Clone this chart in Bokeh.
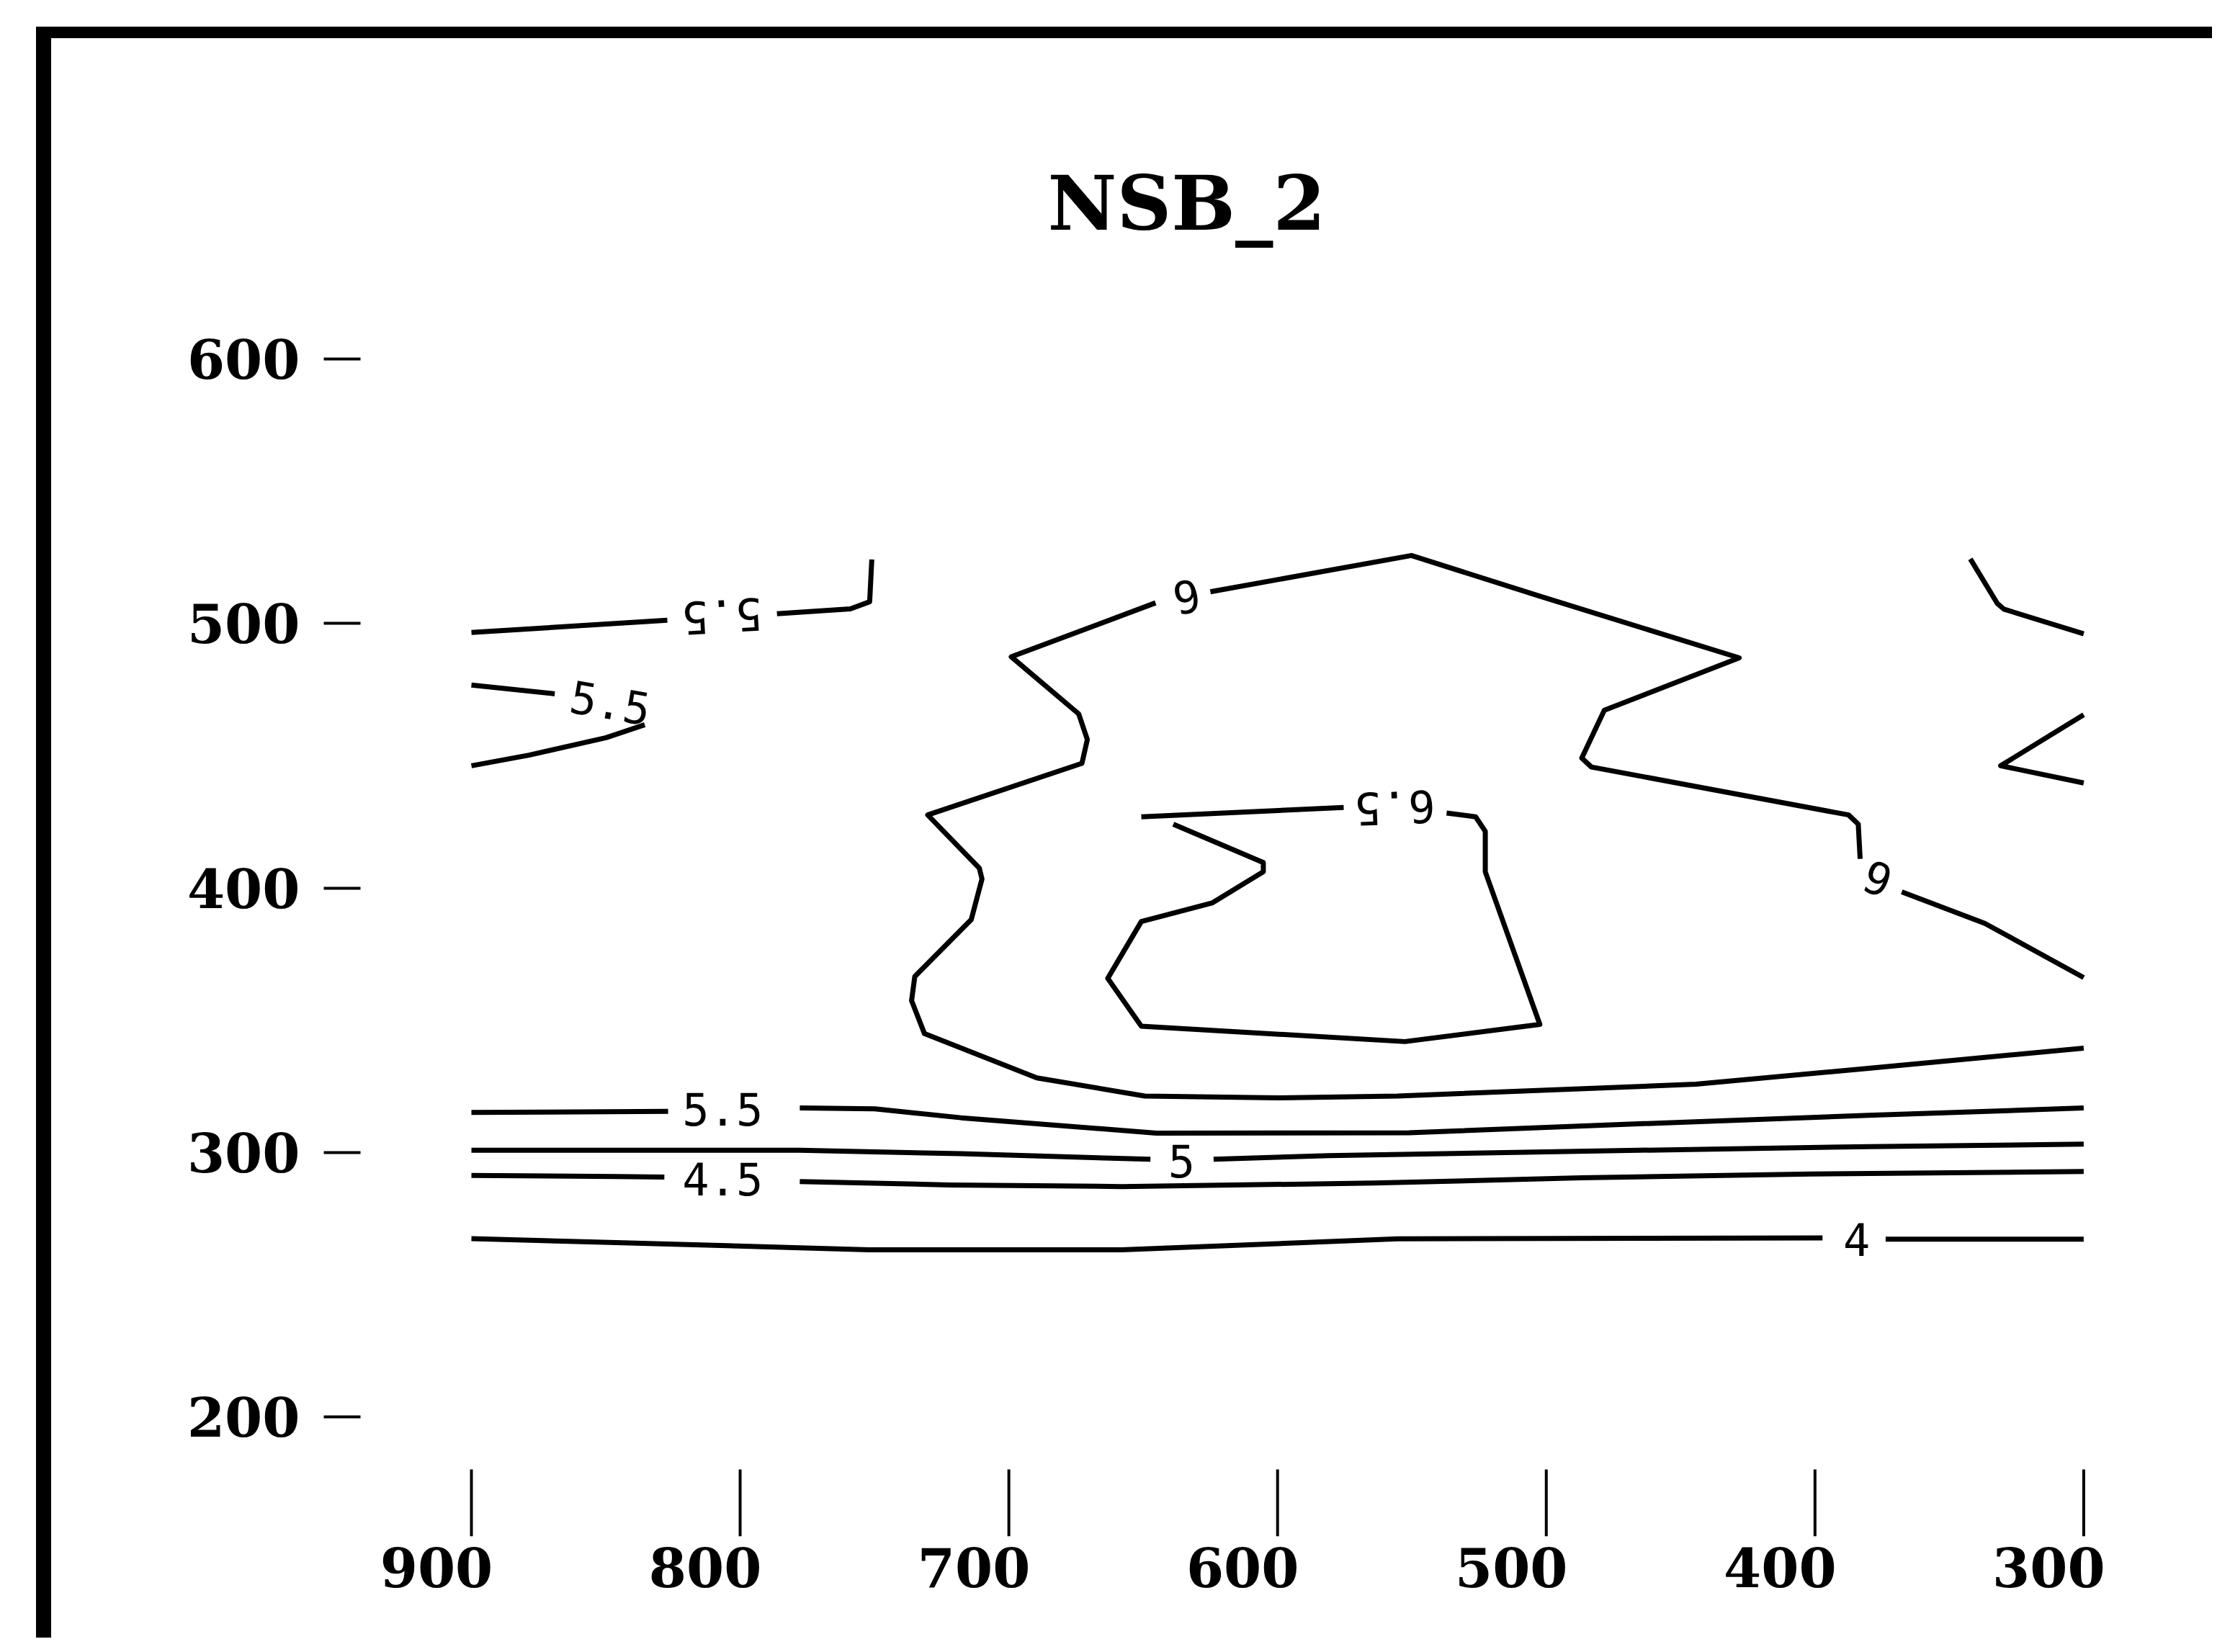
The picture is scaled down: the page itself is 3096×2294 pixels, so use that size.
import math
from bokeh.plotting import figure
from bokeh.models import Range1d, FixedTicker
from bokeh.core.properties import value
from bokeh.embed import file_html
from bokeh.resources import INLINE

# ---------------- data ----------------
title_text = "NSB_2"
x_ticks = [900, 800, 700, 600, 500, 400, 300]
y_ticks = [200, 300, 400, 500, 600]

# contour level 4
c40_x = [[900, 846.1, 752, 658, 555.4, 397.2], [373.7, 300]]
c40_y = [[267.4, 265.9, 263.2, 263.2, 267.3, 267.7], [267.2, 267.2]]
# contour level 4.5
c45_x = [[900, 846.1, 828.2], [777.8, 722.1, 658, 563.9, 486.9, 401.5, 300]]
c45_y = [[291.3, 290.9, 290.7], [289.0, 287.7, 287.1, 288.4, 290.4, 291.8, 292.8]]
# contour level 5
c50_x = [[900, 777.8, 717.8, 647.3], [623.8, 581, 465.6, 380.1, 300]]
c50_y = [[300.8, 300.8, 299.5, 297.4], [297.4, 298.8, 300.8, 302.2, 303.1]]
# contour level 5.5 (bottom, upper-left, tongue)
c55_x = [[900, 826.8], [777.8, 749.9, 717.8, 645.1, 551.1, 465.6, 380.1, 300],
         [900, 827.1], [786.3, 759, 751.8, 751],
         [900, 869], [835.5, 849.9, 878.6, 900]]
c55_y = [[315.1, 315.5], [316.8, 316.5, 313.1, 307.3, 307.4, 310.8, 314.0, 316.8],
         [496.6, 501.2], [503.7, 505.5, 508.2, 524.2],
         [476.7, 473.4], [461.7, 456.8, 450.2, 446.2]]
# contour level 6 (main loop + right-edge pieces)
c60_x = [[300, 380.1, 444.3, 555.4, 600, 649.4, 689.6, 731.4, 736.2, 735, 714, 710, 711,
          730.2, 672.8, 670.8, 674, 699.1, 645.4],
         [625, 550.2, 502.4, 428.2, 478.4, 486.8, 483.2, 387.5, 383.9, 383.2],
         [367.7, 336.8, 300],
         [342.2, 332.1, 329.7, 300],
         [300, 330.9, 300]]
c60_y = [[339.4, 331.8, 325.8, 321.3, 320.6, 321.3, 328.2, 344.9, 357.4, 366.5, 388, 403.4, 407.5,
          427.6, 447.1, 456.1, 465.8, 487.4, 507.8],
         [512, 525.7, 510.3, 487, 467.2, 449.1, 445.7, 427.6, 424.1, 411],
         [398.5, 386.6, 366.1],
         [524.4, 507.5, 505.4, 496.1],
         [465.5, 446.2, 439.7]]
# contour level 6.5
c65_x = [[650.7, 575.4],
         [537.1, 526.3, 522.7, 522.7, 502.4, 552.6, 650.7, 663.2, 650.7, 624.4, 605.3, 605.3, 638.8]]
c65_y = [[426.9, 430.4],
         [428.3, 426.9, 421.4, 406.1, 348.4, 341.9, 347.7, 365.8, 387.3, 394.3, 406.1, 409.6, 424.1]]

# contour labels
label_text = ["4", "4.5", "5", "5.5", "5.5", "5.5", "6", "6", "6.5"]
label_x = [384.5, 806.5, 635.7, 806.5, 806.7, 848.3, 633.8, 376.8, 556.4]
label_y = [267.0, 290.1, 296.7, 316.3, 502.5, 470.1, 509.9, 403.4, 430.1]
label_angle = [0, 0, 0, 0, math.pi + 0.06, -0.17, math.pi + 0.19, math.pi - 0.36, math.pi + 0.04]

# ---------------- figure ----------------
p = figure(width=3021, height=2237, output_backend="svg", toolbar_location=None,
           x_range=Range1d(941.28, 287.24), y_range=Range1d(154.8, 621.24),
           min_border_left=429, min_border_right=152, min_border_top=367, min_border_bottom=157,
           styles={"margin-left": "50px", "margin-top": "37px",
                   "border-left": "21px solid black", "border-top": "16px solid black"})
p.grid.visible = False
p.outline_line_color = None
p.background_fill_color = "white"
p.border_fill_color = "white"

# title
p.title.text = title_text
p.title.text_font = "DejaVu Serif"
p.title.text_font_style = "bold"
p.title.text_font_size = "105px"
p.title.text_color = "black"
p.title.align = "left"
p.title.offset = 954
p.title.standoff = 154

# y axis
ya = p.yaxis[0]
ya.ticker = FixedTicker(ticks=y_ticks)
ya.axis_line_color = None
ya.major_tick_out = 51
ya.major_tick_in = 0
ya.minor_tick_line_color = None
ya.major_tick_line_width = 4
ya.major_tick_line_color = "black"
ya.major_label_standoff = 33
ya.major_label_text_font = "DejaVu Serif"
ya.major_label_text_font_style = "bold"
ya.major_label_text_font_size = "75px"
ya.major_label_text_color = "black"

# x axis: labels sit slightly left of their tick marks in the original
label_shift = 13
x_label_pos = [t + label_shift for t in x_ticks]
xa = p.xaxis[0]
xa.ticker = FixedTicker(ticks=x_label_pos)
xa.major_label_overrides = {pos: str(t) for pos, t in zip(x_label_pos, x_ticks)}
xa.axis_line_color = None
xa.major_tick_line_color = None
xa.minor_tick_line_color = None
xa.major_tick_out = 0
xa.major_tick_in = 0
xa.major_label_standoff = 15
xa.major_label_text_font = "DejaVu Serif"
xa.major_label_text_font_style = "bold"
xa.major_label_text_font_size = "75px"
xa.major_label_text_color = "black"

# x tick marks (vertical bars below the data area)
x_tick_top = 180.12
p.segment(x0=x_ticks, x1=x_ticks, y0=[x_tick_top] * len(x_ticks),
          y1=[p.y_range.start] * len(x_ticks), line_color="black", line_width=4)

# contours
for xs, ys in [(c40_x, c40_y), (c45_x, c45_y), (c50_x, c50_y),
               (c55_x, c55_y), (c60_x, c60_y), (c65_x, c65_y)]:
    p.multi_line(xs=xs, ys=ys, line_color="black", line_width=7, line_join="round")

p.text(x=label_x, y=label_y, text=label_text, angle=label_angle,
       text_font=value("DejaVu Sans Mono"), text_font_size="62px",
       text_align="center", text_baseline="middle", text_color="black")

open("out.html", "w").write(file_html(p, INLINE))
